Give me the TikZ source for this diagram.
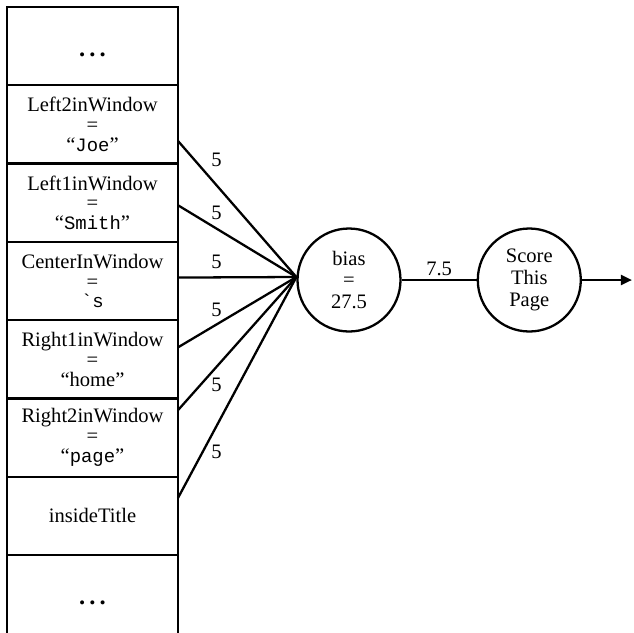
\documentclass[tikz,border=0pt]{standalone}
\usepackage{fontspec}
\setmainfont{Liberation Serif}
\setmonofont[Scale=0.92]{Liberation Mono}
\usetikzlibrary{arrows.meta, positioning}

\newcommand{\moredots}{{\fontsize{14}{14}\selectfont\textbf{.\,.\,.}}}

\begin{document}
\begin{tikzpicture}[
    cell/.style={rectangle, draw=black, line width=1.3pt, minimum width=3.42cm, minimum height=1.566cm, inner sep=0pt, outer sep=0pt, align=center, font=\fontsize{11.7}{11.3}\selectfont},
    unit/.style={circle, draw=black, line width=1.3pt, minimum size=2.06cm, inner sep=0pt, align=center, font=\fontsize{11.7}{12.4}\selectfont},
    link/.style={black, line width=1.3pt},
    wt/.style={font=\fontsize{11.7}{12}\selectfont, inner sep=1pt},
]

\useasboundingbox (0,0) rectangle (12.68,-12.64);

% === INPUT COLUMN ===
\node[cell, text height=0.4cm, text depth=0pt] (top) at (1.85,-0.923) {\moredots};
\node[cell, below=0pt of top] (l2) {Left2inWindow\\=\\``\texttt{Joe}''};
\node[cell, below=0pt of l2] (l1) {Left1inWindow\\=\\``\texttt{Smith}''};
\node[cell, below=0pt of l1] (ctr) {CenterInWindow\\=\\\texttt{`s}};
\node[cell, below=0pt of ctr] (r1) {Right1inWindow\\=\\``home''};
\node[cell, below=0pt of r1] (r2) {Right2inWindow\\=\\``\texttt{page}''};
\node[cell, below=0pt of r2] (title) {insideTitle};
\node[cell, below=0pt of title, minimum height=2cm, text height=0.2cm, text depth=0.22cm] (bot) {\moredots};

% === UNITS ===
\node[unit] (bias) at (6.98,-5.60) {bias\\=\\27.5};
\node[unit, right=1.5cm of bias] (score) {Score\\This\\Page};
\coordinate (hub) at ([yshift=0.06cm]bias.west);
\coordinate[right=1.0cm of score] (out);

% === WEIGHTED INPUTS ===
\draw[link] ([yshift=-0.33cm]l2.east) -- (hub);
\draw[link] ([yshift=-0.05cm]l1.east) -- (hub);
\draw[link] ([yshift=0.07cm]ctr.east) -- (hub);
\draw[link] ([yshift=0.24cm]r1.east) -- (hub);
\draw[link] ([yshift=0.55cm]r2.east) -- (hub);
\draw[link] ([yshift=0.36cm]title.east) -- (hub);

\node[wt] (w1) at (4.33,-3.20) {5};
\node[wt] (w2) at (4.33,-4.26) {5};
\node[wt] (w3) at (4.33,-5.23) {5};
\node[wt] (w4) at (4.33,-6.20) {5};
\node[wt] (w5) at (4.33,-7.70) {5};
\node[wt] (w6) at (4.33,-9.03) {5};

% === OUTPUT ===
\draw[link] (bias) -- (score) node[wt, midway, above=1pt] {7.5};
\draw[link, -{Triangle[length=0.22cm, width=0.2cm]}] (score) -- (out);

\end{tikzpicture}
\end{document}
